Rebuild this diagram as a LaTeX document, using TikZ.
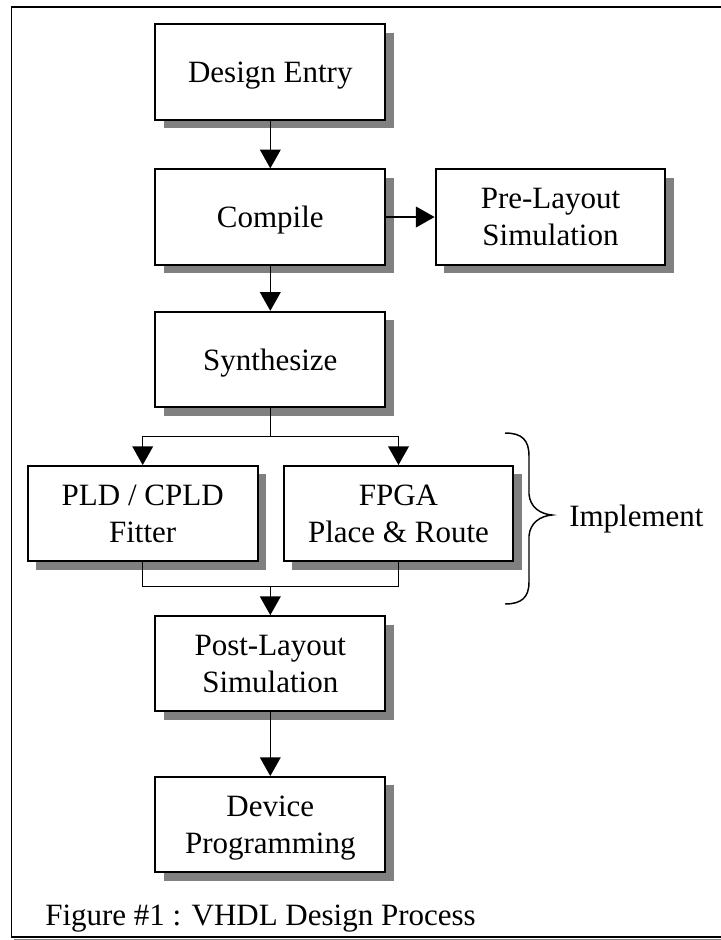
\documentclass[tikz,border=0pt]{standalone}
\usepackage{fontspec}
\setmainfont{Liberation Serif}
\usetikzlibrary{arrows.meta,shadows}
\definecolor{shadowgray}{RGB}{128,128,128}

\begin{document}
\begin{tikzpicture}[x=0.75pt,y=-0.75pt,
  txt/.style={font=\fontsize{23.25}{27.5}\selectfont},
  stepbox/.style={txt, draw, line width=1.5pt, fill=white,
    minimum width=172.3pt, minimum height=71.5pt, inner sep=0pt,
    align=center, text depth=0pt,
    drop shadow={shadow xshift=6.3pt, shadow yshift=-6.3pt,
                 fill=shadowgray, opacity=1}},
  conn/.style={line width=1pt, -{Triangle[width=15.5pt,length=14pt]}},
  wire/.style={line width=1pt},
  bracepath/.style={line width=1.1pt}]

\useasboundingbox (0,0) rectangle (721,940);

% outer frame
\draw[line width=1.5pt] (11.2,7) -- (722,7);
\draw[line width=1pt] (11.7,6) -- (11.7,937);
\draw[line width=1pt] (11.2,937) -- (722,937);
\draw[line width=1pt, shadowgray] (14,939.6) -- (722,939.6);

% process steps
\node[stepbox] (de)   at (270.3,72)    {Design Entry};
\node[stepbox] (comp) at (270.3,217)   {Compile};
\node[stepbox] (pre)  at (550.5,217)   {Pre-Layout\\Simulation};
\node[stepbox] (syn)  at (270.3,359.5) {Synthesize};
\node[stepbox] (pld)  at (142.7,513.7) {PLD / CPLD\\Fitter};
\node[stepbox] (fpga) at (398.5,513.7) {FPGA\\Place \& Route};
\node[stepbox] (post) at (270.3,663.8) {Post-Layout\\Simulation};
\node[stepbox] (dev)  at (270.3,824.7) {Device\\Programming};

% flow
\draw[conn] (de) -- (comp);
\draw[conn] (comp) -- (pre);
\draw[conn] (comp) -- (syn);

\coordinate (fork) at (270.3,436.7);
\draw[wire] (syn.south) -- (fork);
\draw[conn] (fork) -| (pld.north);
\draw[conn] (fork) -| (fpga.north);

\coordinate (join) at (270.3,586.7);
\draw[wire] (pld.south) |- (join);
\draw[wire] (fpga.south) |- (join);
\draw[conn] (join) -- (post.north);

\draw[conn] (post) -- (dev);

% implementation brace and label
\draw[bracepath] (505,433) .. controls (522,433) and (529,440) .. (529,456)
  -- (529,494) .. controls (530,507) and (540,514) .. (552,515)
  .. controls (540,516) and (530,523) .. (529,536)
  -- (529,582) .. controls (529,597) and (522,604) .. (505,604);
\node[txt, anchor=base west, inner sep=0pt] (impl) at (569,526.7) {Implement};

% caption
\node[txt, anchor=base west, inner sep=0pt] (caption) at (45,925.7)
  {Figure \#1 : VHDL Design Process};
\end{tikzpicture}
\end{document}
